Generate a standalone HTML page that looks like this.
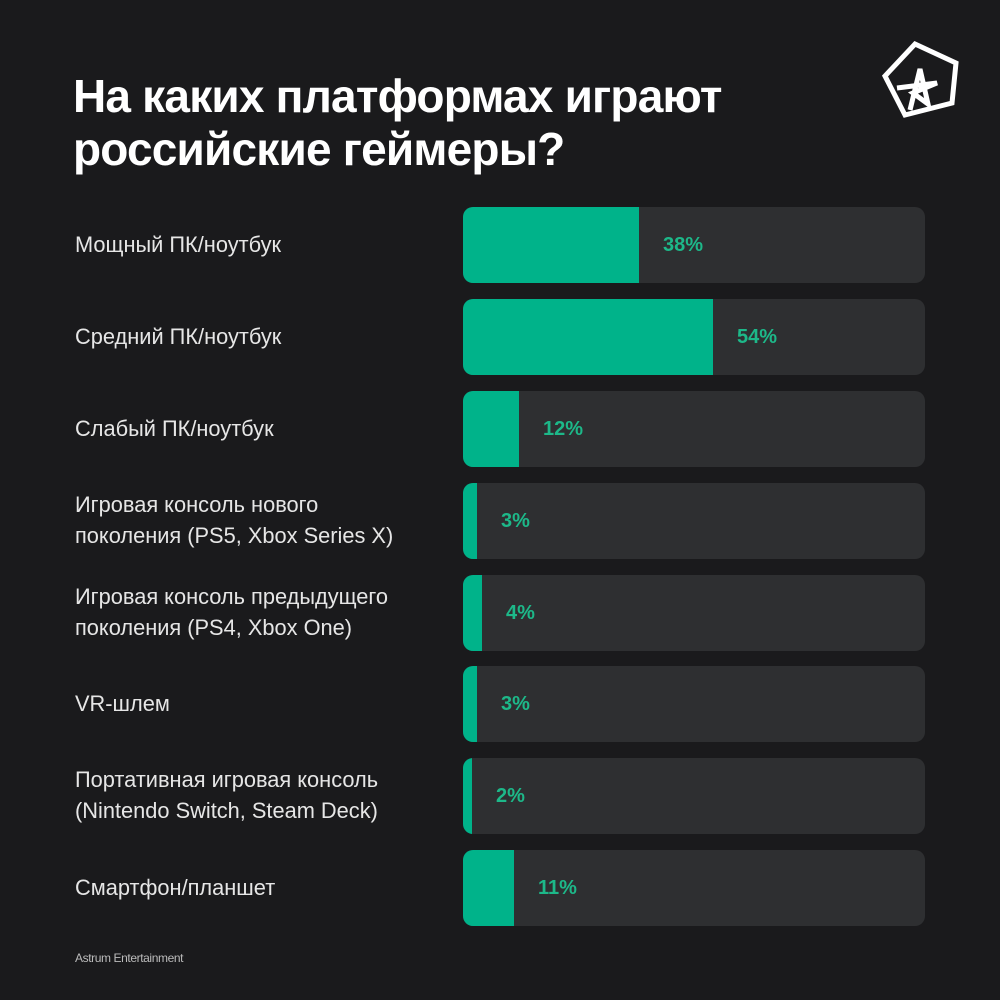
<!DOCTYPE html>
<html><head><meta charset="utf-8"><style>
body{margin:0;width:1000px;height:1000px;background:#1a1a1c;font-family:"Liberation Sans","DejaVu Sans",sans-serif;position:relative;overflow:hidden;color:#e8e8e8}
h1{position:absolute;left:73px;top:70px;margin:0;font-size:46px;line-height:53px;font-weight:bold;color:#fff;letter-spacing:-0.8px}
.lab{position:absolute;left:75px;font-size:21.8px;line-height:31px;color:#e6e6e6}
.bar{position:absolute;left:463px;width:462px;height:76px;background:#2e2f31;border-radius:10px;overflow:hidden}
.fill{position:absolute;left:0;top:0;bottom:0;background:#00b38a}
.pct{position:absolute;top:0;line-height:76px;font-size:20px;font-weight:bold;color:#1db889}
.foot{position:absolute;left:75px;top:951px;font-size:12px;color:#bbb;letter-spacing:-0.4px}
</style></head><body>
<h1>На каких платформах играют<br>российские геймеры?</h1>
<svg style="position:absolute;left:0;top:0" width="1000" height="140">
<polygon points="915,44 956,63 952,103 905,115 885,76" fill="none" stroke="#fff" stroke-width="5"/>
<path d="M897,88 L937,83 L913,93 L928,104 L920,69 L910,110" fill="none" stroke="#fff" stroke-width="5"/>
</svg>
<div class="lab" style="top:229px">Мощный ПК/ноутбук</div>
<div class="bar" style="top:207px"><div class="fill" style="width:176px"></div><div class="pct" style="left:200px">38%</div></div>
<div class="lab" style="top:321px">Средний ПК/ноутбук</div>
<div class="bar" style="top:299px"><div class="fill" style="width:250px"></div><div class="pct" style="left:274px">54%</div></div>
<div class="lab" style="top:413px">Слабый ПК/ноутбук</div>
<div class="bar" style="top:391px"><div class="fill" style="width:56px"></div><div class="pct" style="left:80px">12%</div></div>
<div class="lab" style="top:489px">Игровая консоль нового<br>поколения (PS5, Xbox Series X)</div>
<div class="bar" style="top:483px"><div class="fill" style="width:14px"></div><div class="pct" style="left:38px">3%</div></div>
<div class="lab" style="top:581px">Игровая консоль предыдущего<br>поколения (PS4, Xbox One)</div>
<div class="bar" style="top:575px"><div class="fill" style="width:19px"></div><div class="pct" style="left:43px">4%</div></div>
<div class="lab" style="top:688px">VR-шлем</div>
<div class="bar" style="top:666px"><div class="fill" style="width:14px"></div><div class="pct" style="left:38px">3%</div></div>
<div class="lab" style="top:764px">Портативная игровая консоль<br>(Nintendo Switch, Steam Deck)</div>
<div class="bar" style="top:758px"><div class="fill" style="width:9px"></div><div class="pct" style="left:33px">2%</div></div>
<div class="lab" style="top:872px">Смартфон/планшет</div>
<div class="bar" style="top:850px"><div class="fill" style="width:51px"></div><div class="pct" style="left:75px">11%</div></div>
<div class="foot">Astrum Entertainment</div>
</body></html>
